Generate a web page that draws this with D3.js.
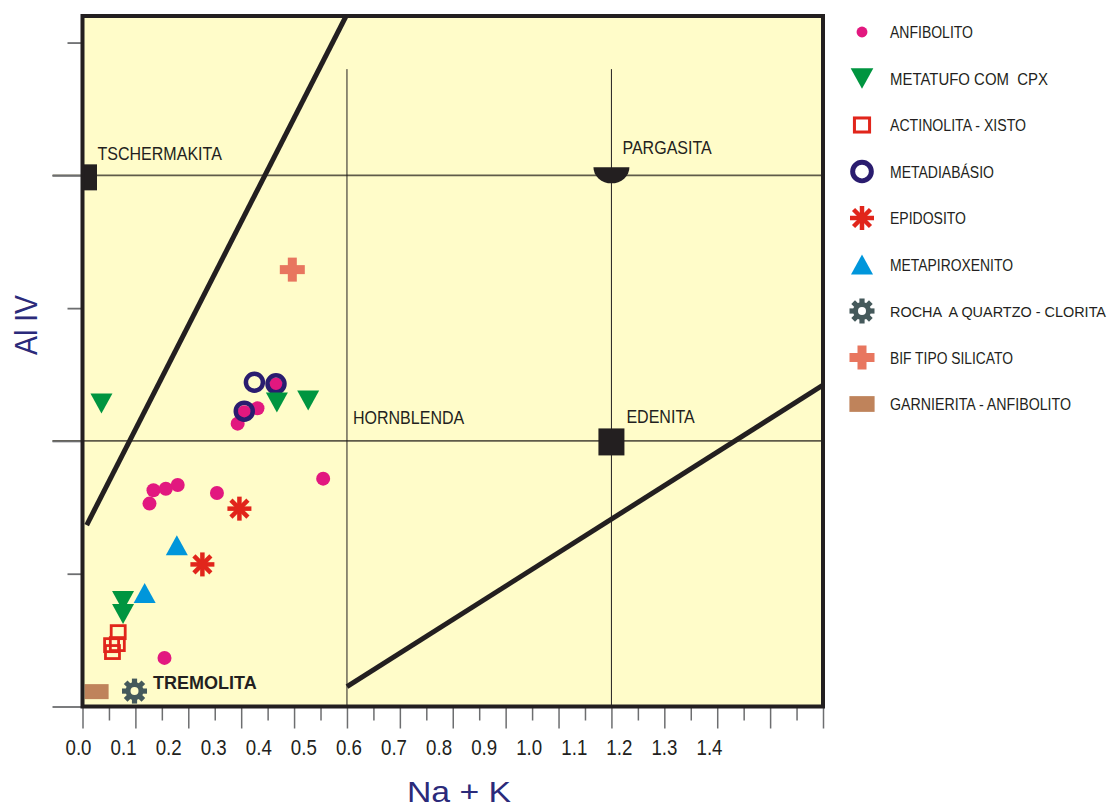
<!DOCTYPE html>
<html>
<head>
<meta charset="utf-8">
<script src="https://cdn.jsdelivr.net/npm/d3@7"></script>
<style>
  body { margin: 0; background: #ffffff; }
  svg { display: block; }
  text { font-family: "Liberation Sans", Arial, sans-serif; white-space: pre; }
</style>
</head>
<body>
<svg id="chart" width="1118" height="809"></svg>
<script>
// Amphibole classification: Al IV versus Na + K (apfu)

// ---- sample analyses, [Na + K, Al IV] ----
const anfibolito = [
  [0.152, 0.764], [0.161, 0.814], [0.189, 0.820], [0.216, 0.834],
  [0.305, 0.804], [0.546, 0.858], [0.352, 1.065], [0.397, 1.123],
  [0.367, 1.108], [0.439, 1.212], [0.186, 0.183]
];
const metatufoCpx = [[0.043, 1.141], [0.441, 1.145], [0.512, 1.152], [0.092, 0.397], [0.092, 0.348]];
const actinolitaXisto = [[0.081, 0.280], [0.079, 0.235], [0.066, 0.231], [0.068, 0.205]];
const metadiabasio = [[0.390, 1.221], [0.439, 1.215], [0.367, 1.112]];
const epidosito = [[0.356, 0.745], [0.272, 0.535]];
const metapiroxenito = [[0.214, 0.607], [0.141, 0.427]];
const rochaQuartzoClorita = [[0.118, 0.058]];
const bifSilicato = [[0.476, 1.645]];
const garnieritaAnfibolito = [[0.032, 0.056]];

// ---- end-member compositions ----
const endMembers = [
  { name: "TSCHERMAKITA", x: 0.0, y: 2.0 },
  { name: "PARGASITA", x: 1.2, y: 2.0 },
  { name: "EDENITA", x: 1.2, y: 1.0 },
  { name: "TREMOLITA", x: 0.0, y: 0.0 }
];

// ---- field boundaries ----
const boundaryLeft = [[0.0095, 0.683], [0.598, 2.6]];
const boundaryRight = [[0.600, 0.075], [1.68, 1.21]];
const gridVertical = [0.6, 1.2];
const gridHorizontal = [1.0, 2.0];

// ---- axis ticks ----
const xTickMarks = d3.range(0, 29).map(i => +(i * 0.06).toFixed(2));
const xTickLabels = [0.0, 0.1, 0.2, 0.3, 0.4, 0.5, 0.6, 0.7, 0.8, 0.9, 1.0, 1.1, 1.2, 1.3, 1.4];
const yTickMarks = [0, 0.5, 1.0, 1.5, 2.0, 2.5];

const legendNames = [
  "ANFIBOLITO", "METATUFO COM  CPX", "ACTINOLITA - XISTO", "METADIABÁSIO",
  "EPIDOSITO", "METAPIROXENITO", "ROCHA  A QUARTZO - CLORITA",
  "BIF TIPO SILICATO", "GARNIERITA - ANFIBOLITO"
];

const C = {
  ink: "#231f20", paper: "#fffcc9", grid: "#5f5b49", tick: "#6d6e70",
  title: "#2b2a7a", white: "#ffffff",
  magenta: "#e2187f", green: "#009540", red: "#e1251b", navy: "#2a1c6f",
  blue: "#0096db", slate: "#45595b", salmon: "#e8765f", brown: "#bf835b"
};

const svg = d3.select("#chart");
const x = d3.scaleLinear().domain([0, 1.68]).range([82.5, 823]);
const y = d3.scaleLinear().domain([0, 2.6]).range([706.5, 16]);
// printed label row of the Na + K scale
const xLabel = d3.scaleLinear().domain([0, 1.4]).range([78, 709]);

function condense(sel, f) {
  sel.each(function () {
    const n = this.getComputedTextLength();
    d3.select(this).attr("textLength", n * f).attr("lengthAdjust", "spacingAndGlyphs");
  });
}

// ---- plot background ----
svg.append("rect")
  .attr("x", x(0)).attr("y", y(2.6))
  .attr("width", x(1.68) - x(0)).attr("height", y(0) - y(2.6))
  .attr("fill", C.paper);

svg.append("clipPath").attr("id", "plotClip").append("rect")
  .attr("x", x(0)).attr("y", y(2.6))
  .attr("width", x(1.68) - x(0)).attr("height", y(0) - y(2.6));

// ---- grid lines ----
svg.append("g").selectAll("line").data(gridHorizontal).join("line")
  .attr("x1", x(0) - 30).attr("x2", x(1.68))
  .attr("y1", d => y(d)).attr("y2", d => y(d))
  .attr("stroke", C.grid).attr("stroke-width", 1.6);

svg.append("g").selectAll("line").data(gridVertical).join("line")
  .attr("x1", d => x(d)).attr("x2", d => x(d))
  .attr("y1", y(2.4)).attr("y2", y(0))
  .attr("stroke", C.ink).attr("stroke-width", 1);

// ---- field boundaries ----
const line = d3.line().x(d => x(d[0])).y(d => y(d[1]));
svg.append("g").attr("clip-path", "url(#plotClip)")
  .selectAll("path").data([boundaryLeft, boundaryRight]).join("path")
  .attr("d", line).attr("fill", "none")
  .attr("stroke", C.ink).attr("stroke-width", 5);

// ---- axes ----
const xAxisLong = d3.axisBottom(x).tickValues(xTickMarks.filter((d, i) => i % 2 === 0)).tickSize(22).tickFormat("");
const xAxisShort = d3.axisBottom(x).tickValues(xTickMarks.filter((d, i) => i % 2 === 1)).tickSize(14).tickFormat("");
[xAxisLong, xAxisShort].forEach(ax => {
  const g = svg.append("g").attr("transform", `translate(0,${y(0)})`).call(ax);
  g.select(".domain").remove();
  g.selectAll(".tick line").attr("stroke", C.tick).attr("stroke-width", 1.5);
});

const xAxisLabels = d3.axisBottom(xLabel).tickValues(xTickLabels).tickSize(0).tickPadding(33)
  .tickFormat(d3.format(".1f"));
const gxl = svg.append("g").attr("transform", `translate(0,${y(0)})`).call(xAxisLabels);
gxl.select(".domain").remove();
gxl.selectAll("text").attr("fill", C.ink).attr("font-size", 22)
  .attr("font-family", "'Liberation Sans', Arial, sans-serif").call(condense, 0.85);

const yAxisShort = d3.axisLeft(y).tickValues(yTickMarks.filter((d, i) => i % 2 === 1)).tickSize(15).tickFormat("");
const yAxisLong = d3.axisLeft(y).tickValues(yTickMarks.filter((d, i) => i % 2 === 0)).tickSize(30).tickFormat("");
[yAxisShort, yAxisLong].forEach(ax => {
  const g = svg.append("g").attr("transform", `translate(${x(0)},0)`).call(ax);
  g.select(".domain").remove();
  g.selectAll(".tick line").attr("stroke", C.tick).attr("stroke-width", 1.8);
});

// ---- marker shapes (drawn at the origin of a group; bg = colour behind the mark) ----
const shapes = {
  circle(g, k) {
    g.append("circle").attr("r", 7 * k).attr("fill", C.magenta);
  },
  down(g, k) {
    g.append("path").attr("d", `M${-11 * k},${-10 * k}L${11 * k},${-10 * k}L0,${10 * k}Z`).attr("fill", C.green);
  },
  square(g, k) {
    g.append("rect").attr("x", -7 * k).attr("y", -6.5 * k).attr("width", 14 * k).attr("height", 13 * k)
      .attr("fill", "none").attr("stroke", C.red).attr("stroke-width", 2.8 * k);
  },
  ring(g, k) {
    g.append("circle").attr("r", 8.5 * k).attr("fill", "none").attr("stroke", C.navy).attr("stroke-width", 4.5 * k);
  },
  asterisk(g, k) {
    [0, 45, 90, 135].forEach(a => {
      g.append("line").attr("x1", -12 * k).attr("x2", 12 * k).attr("y1", 0).attr("y2", 0)
        .attr("transform", `rotate(${a})`).attr("stroke", C.red).attr("stroke-width", 4.5 * k);
    });
    g.append("circle").attr("r", 5 * k).attr("fill", C.red);
  },
  up(g, k) {
    g.append("path").attr("d", `M${-11 * k},${10 * k}L${11 * k},${10 * k}L0,${-10 * k}Z`).attr("fill", C.blue);
  },
  gear(g, k, bg) {
    [0, 45, 90, 135].forEach(a => {
      g.append("rect").attr("x", -2.6 * k).attr("y", -12.5 * k).attr("width", 5.2 * k).attr("height", 25 * k)
        .attr("transform", `rotate(${a})`).attr("fill", C.slate);
    });
    g.append("circle").attr("r", 9 * k).attr("fill", C.slate);
    g.append("circle").attr("r", 4 * k).attr("fill", bg);
  },
  cross(g, k) {
    g.append("rect").attr("x", -12.5 * k).attr("y", -4.5 * k).attr("width", 25 * k).attr("height", 9 * k).attr("fill", C.salmon);
    g.append("rect").attr("x", -4.5 * k).attr("y", -12 * k).attr("width", 9 * k).attr("height", 24 * k).attr("fill", C.salmon);
  },
  block(g, k) {
    g.append("rect").attr("x", -12 * k).attr("y", -7.5 * k).attr("width", 24 * k).attr("height", 15 * k).attr("fill", C.brown);
  }
};

// ---- end-member symbols and labels ----
const em = Object.fromEntries(endMembers.map(d => [d.name, d]));
svg.append("rect")
  .attr("x", x(em.TSCHERMAKITA.x) + 0.5).attr("y", y(em.TSCHERMAKITA.y) - 11)
  .attr("width", 14).attr("height", 26).attr("fill", C.ink);
svg.append("path")
  .attr("transform", `translate(${x(em.PARGASITA.x)},${y(em.PARGASITA.y) - 8})`)
  .attr("d", "M-18,0A18,16 0 0 0 18,0Z").attr("fill", C.ink);
svg.append("rect")
  .attr("x", x(em.EDENITA.x) - 13).attr("y", y(em.EDENITA.y) - 12.5)
  .attr("width", 26).attr("height", 27).attr("fill", C.ink);

const fieldLabels = [
  { t: "TSCHERMAKITA", px: x(0) + 15, py: y(2.0) - 15 },
  { t: "PARGASITA", px: x(1.2) + 11, py: y(2.0) - 21 },
  { t: "EDENITA", px: x(1.2) + 15, py: y(1.0) - 18 },
  { t: "HORNBLENDA", px: x(0.6) + 6, py: y(1.0) - 16.5 }
];
svg.append("g").selectAll("text").data(fieldLabels).join("text")
  .attr("x", d => d.px).attr("y", d => d.py).text(d => d.t)
  .attr("font-size", 18).attr("fill", C.ink).call(condense, 0.89);

svg.append("text").attr("x", x(0.16)).attr("y", y(0.065))
  .attr("font-size", 18).attr("font-weight", "bold").attr("fill", C.ink)
  .text("TREMOLITA");

// ---- samples ----
const series = [
  { data: anfibolito, shape: "circle" },
  { data: metadiabasio, shape: "ring" },
  { data: metatufoCpx, shape: "down" },
  { data: actinolitaXisto, shape: "square" },
  { data: epidosito, shape: "asterisk" },
  { data: metapiroxenito, shape: "up" },
  { data: rochaQuartzoClorita, shape: "gear" },
  { data: bifSilicato, shape: "cross" },
  { data: garnieritaAnfibolito, shape: "block" }
];
series.forEach(s => {
  svg.append("g").selectAll("g").data(s.data).join("g")
    .attr("transform", d => `translate(${x(d[0])},${y(d[1])})`)
    .each(function () { shapes[s.shape](d3.select(this), 1, C.paper); });
});

// ---- plot frame ----
svg.append("rect")
  .attr("x", x(0)).attr("y", y(2.6))
  .attr("width", x(1.68) - x(0)).attr("height", y(0) - y(2.6))
  .attr("fill", "none").attr("stroke", C.ink).attr("stroke-width", 4);

// ---- axis titles ----
svg.append("text").attr("x", 459).attr("y", 802).attr("text-anchor", "middle")
  .attr("font-size", 30).attr("fill", C.title)
  .attr("textLength", 104).attr("lengthAdjust", "spacingAndGlyphs").text("Na + K");
svg.append("text").attr("transform", "translate(37,325) rotate(-90)").attr("text-anchor", "middle")
  .attr("font-size", 32).attr("fill", C.title)
  .attr("textLength", 60).attr("lengthAdjust", "spacingAndGlyphs").text("Al IV");

// ---- legend ----
const legendShapes = ["circle", "down", "square", "ring", "asterisk", "up", "gear", "cross", "block"];
const legendScale = [0.78, 1.03, 1.08, 1.1, 1.0, 1.0, 1.0, 1.0, 1.05];
const legendWidths = [83, 158, 136, 104, 76, 123, 216, 123, 181];
const legendFont = [16, 16, 16, 16, 16, 16, 14.5, 16, 16];
const legend = svg.append("g");
const rows = legend.selectAll("g").data(legendNames).join("g")
  .attr("transform", (d, i) => `translate(0,${38 + i * 46.5})`);
rows.each(function (d, i) {
  const g = d3.select(this).append("g").attr("transform", "translate(862,-6)");
  shapes[legendShapes[i]](g, legendScale[i], C.white);
});
rows.append("text").attr("x", 890).attr("y", 0).text(d => d)
  .attr("font-size", (d, i) => legendFont[i]).attr("fill", C.ink)
  .attr("textLength", (d, i) => legendWidths[i]).attr("lengthAdjust", "spacingAndGlyphs");
</script>
</body>
</html>
